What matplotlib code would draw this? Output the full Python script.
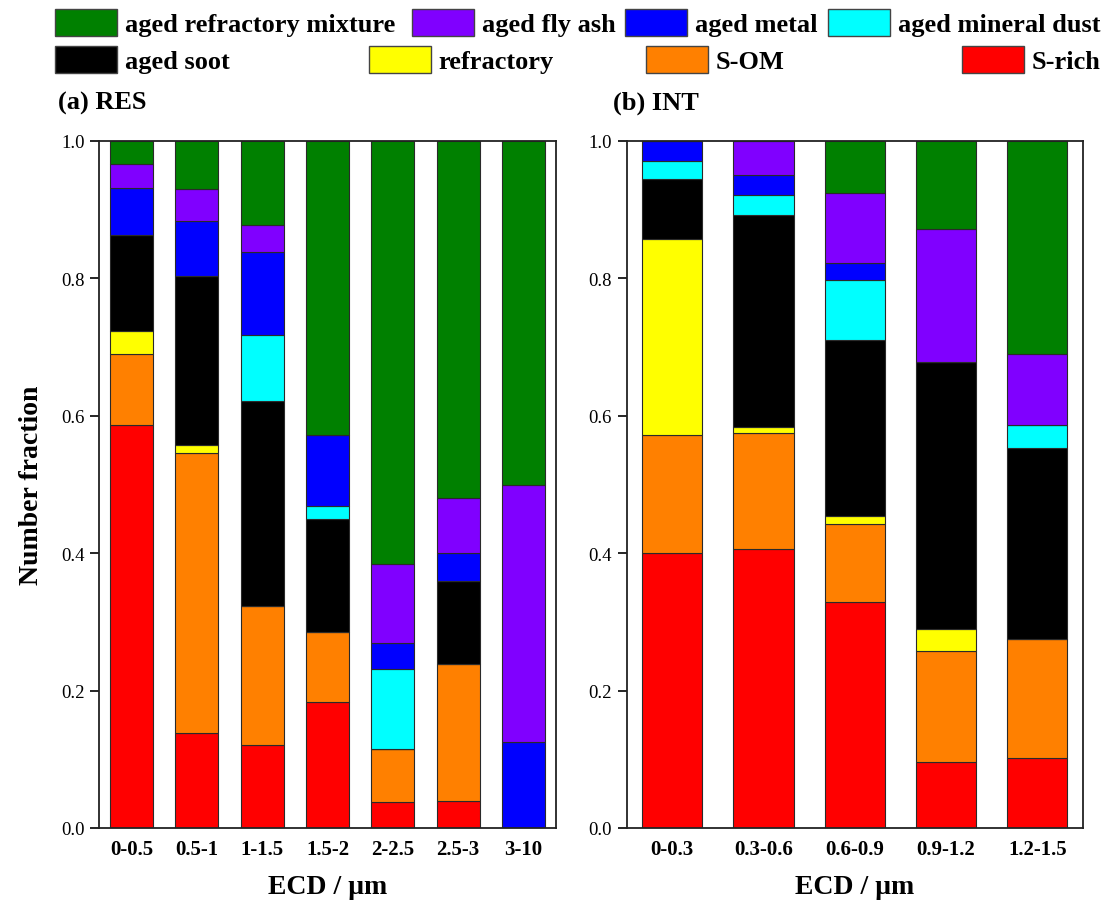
import matplotlib
matplotlib.use("Agg")
import matplotlib.pyplot as plt
from matplotlib.patches import Patch
import numpy as np

plt.rcParams['font.family'] = ['Liberation Serif', 'DejaVu Serif']

series = ['S-rich', 'S-OM', 'refractory', 'aged soot', 'aged mineral dust',
          'aged metal', 'aged fly ash', 'aged refractory mixture']
colors = ['#FF0000', '#FF8000', '#FFFF00', '#000000', '#00FFFF',
          '#0000FF', '#8000FF', '#008000']

# Panel (a) RES
cats_a = ['0-0.5', '0.5-1', '1-1.5', '1.5-2', '2-2.5', '2.5-3', '3-10']
res_s_rich   = [0.587, 0.139, 0.121, 0.183, 0.038, 0.040, 0.0]
res_s_om     = [0.103, 0.407, 0.202, 0.102, 0.077, 0.199, 0.0]
res_refr     = [0.034, 0.012, 0.0,   0.0,   0.0,   0.0,   0.0]
res_soot     = [0.139, 0.245, 0.299, 0.165, 0.0,   0.121, 0.0]
res_mineral  = [0.0,   0.0,   0.095, 0.018, 0.116, 0.0,   0.0]
res_metal    = [0.069, 0.081, 0.121, 0.104, 0.039, 0.040, 0.125]
res_flyash   = [0.035, 0.046, 0.040, 0.0,   0.115, 0.080, 0.375]
res_mixture  = [0.033, 0.070, 0.122, 0.428, 0.615, 0.520, 0.500]

# Panel (b) INT
cats_b = ['0-0.3', '0.3-0.6', '0.6-0.9', '0.9-1.2', '1.2-1.5']
int_s_rich   = [0.400, 0.406, 0.329, 0.096, 0.102]
int_s_om     = [0.172, 0.169, 0.113, 0.162, 0.173]
int_refr     = [0.285, 0.008, 0.012, 0.031, 0.0]
int_soot     = [0.087, 0.309, 0.256, 0.389, 0.278]
int_mineral  = [0.027, 0.029, 0.088, 0.0,   0.033]
int_metal    = [0.029, 0.030, 0.025, 0.0,   0.0]
int_flyash   = [0.0,   0.049, 0.101, 0.194, 0.104]
int_mixture  = [0.0,   0.0,   0.076, 0.128, 0.310]

data_a = [res_s_rich, res_s_om, res_refr, res_soot, res_mineral, res_metal, res_flyash, res_mixture]
data_b = [int_s_rich, int_s_om, int_refr, int_soot, int_mineral, int_metal, int_flyash, int_mixture]

W, H = 1113, 912
fig = plt.figure(figsize=(W/100, H/100), dpi=100)
ax1 = fig.add_axes([99/W, 83/H, 457/W, 687/H])
ax2 = fig.add_axes([626.6/W, 83/H, 456.4/W, 687/H])

def draw(ax, cats, data, label):
    x = np.arange(len(cats))
    bottom = np.zeros(len(cats))
    for vals, c in zip(data, colors):
        v = np.array(vals)
        ax.bar(x, v, bottom=bottom, width=0.66, color=c, edgecolor='#2a2a2a', linewidth=0.8)
        bottom += v
    ax.set_xlim(-0.5, len(cats) - 0.5)
    ax.set_ylim(0, 1.0)
    ax.set_xticks(x)
    ax.set_xticklabels(cats, fontsize=15, fontweight='bold')
    ax.set_yticks(np.arange(0, 1.01, 0.2))
    ax.set_yticklabels(['%.1f' % t for t in np.arange(0, 1.01, 0.2)], fontsize=13.5)
    ax.tick_params(axis='x', length=0, pad=8)
    ax.tick_params(axis='y', direction='out', length=6.5, width=1.2, pad=4)
    for s in ax.spines.values():
        s.set_linewidth(1.3)
        s.set_color('#222222')
    ax.set_xlabel('ECD / \u03bcm', fontsize=20, fontweight='bold', labelpad=11)
    ax.text(-0.09 if label.startswith('(a)') else -0.03, 1.056, label, transform=ax.transAxes,
            fontsize=19, fontweight='bold', ha='left', va='center')

draw(ax1, cats_a, data_a, '(a) RES')
draw(ax2, cats_b, data_b, '(b) INT')
ax1.set_ylabel('Number fraction', fontsize=20, fontweight='bold', labelpad=12)

# legend entries (Origin-style free layout)
leg_pos = {
    'aged refractory mixture': (55, 10),
    'aged fly ash': (412, 10),
    'aged metal': (625, 10),
    'aged mineral dust': (828, 10),
    'aged soot': (55, 47),
    'refractory': (369, 47),
    'S-OM': (646, 47),
    'S-rich': (962, 47),
}
for name, c in zip(series, colors):
    px, py = leg_pos[name]
    h = Patch(facecolor=c, edgecolor='#444444', linewidth=1.0, label=name)
    fig.legend(handles=[h], loc='upper left', bbox_to_anchor=(px/W, 1 - py/H),
               frameon=False, borderpad=0, borderaxespad=0,
               handlelength=2.34, handleheight=1.17, handletextpad=0.3,
               prop={'size': 19, 'weight': 'bold', 'family': 'Liberation Serif'})

fig.savefig('out.png', dpi=100)
